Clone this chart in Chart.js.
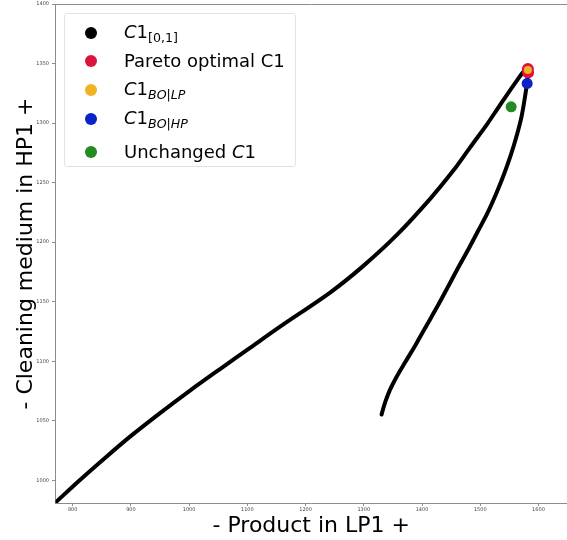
<!DOCTYPE html>
<html>
<head>
<meta charset="utf-8">
<script src="https://cdn.jsdelivr.net/npm/chart.js@4.4.1/dist/chart.umd.min.js"></script>
<style>
  body { margin: 0; background: #fff; }
  #wrap { position: relative; width: 567px; height: 540px; font-family: 'DejaVu Sans', sans-serif; }
  #legend { position: absolute; left: 64px; top: 13px; width: 230px; height: 152px;
            border: 1px solid #e2e2e2; border-radius: 3px; background: rgba(255,255,255,0.85); }
  .dot { position: absolute; width: 12px; height: 12px; border-radius: 50%; }
  .lbl { position: absolute; left: 123px; font-size: 18px; line-height: 18px; white-space: nowrap; color: #000; }
  .lbl i { font-style: oblique; }
  .lbl sub { font-size: 0.7em; vertical-align: -0.35em; line-height: 0; }
</style>
</head>
<body>
<div id="wrap">
  <canvas id="chart" width="567" height="540"></canvas>
  <div id="legend"></div>
</div>
<script>
// solution path C1 in [0,1]: up the long branch, back down the short one
const curveX = [771.3, 812.5, 855.5, 898.5, 950, 1001.5, 1053.1, 1104.6, 1156.2, 1242.1, 1298.8,
                1357.2, 1413.9, 1453.4, 1482.6, 1511.9, 1529, 1546.2, 1561.7, 1573.7, 1581.4,
                1580.6, 1577.1, 1571.1, 1563.4, 1553.1, 1541.1, 1527.3, 1511.9, 1496.4, 1479.2,
                1462, 1444.8, 1427.7, 1408.8, 1389.9, 1371, 1355.5, 1344.5, 1337.5, 1333, 1330.6];
const curveY = [981.8, 1000.3, 1018.8, 1036.7, 1056.5, 1075.4, 1093.5, 1111.3, 1129.1, 1157.7, 1179.9,
                1206.3, 1236.4, 1259.9, 1279.6, 1299.2, 1311.6, 1324, 1334.8, 1342.8, 1345.7,
                1335.3, 1322.7, 1305.9, 1290.9, 1274.1, 1257.4, 1240.6, 1223.9, 1209.6, 1193.7,
                1178.6, 1162.7, 1147.2, 1130.9, 1114.6, 1099.1, 1086.2, 1075.6, 1066.7, 1059.7, 1055.3];

const paretoX = [1581.8, 1582.2];
const paretoY = [1345.5, 1342.5];
const boLpX = [1581.8];
const boLpY = [1344.5];
const boHpX = [1580.6];
const boHpY = [1333.3];
const unchangedX = [1553.1];
const unchangedY = [1313.7];

const xTicks = [800, 900, 1000, 1100, 1200, 1300, 1400, 1500, 1600];
const yTicks = [1000, 1050, 1100, 1150, 1200, 1250, 1300, 1350, 1400];

const seriesColors = ['#000000', '#dc143c', '#f0b323', '#0a22c8', '#228b22'];
const seriesLabels = [
    '<i>C</i>1<sub>[0,1]</sub>',
    'Pareto optimal C1',
    '<i>C</i>1<sub><i>BO</i>|<i>LP</i></sub>',
    '<i>C</i>1<sub><i>BO</i>|<i>HP</i></sub>',
    'Unchanged <i>C</i>1'
];

const zip = (xs, ys) => xs.map((x, i) => ({ x: x, y: ys[i] }));

Chart.defaults.font.family = "'DejaVu Sans', sans-serif";

const spineColor = '#8c8c8c';

// top spine like matplotlib
const topSpine = {
    id: 'topSpine',
    afterDraw: (chart) => {
        const { ctx, chartArea } = chart;
        ctx.save();
        ctx.strokeStyle = spineColor;
        ctx.lineWidth = 1;
        ctx.beginPath();
        ctx.moveTo(chartArea.left, chartArea.top + 0.5);
        ctx.lineTo(chartArea.right, chartArea.top + 0.5);
        ctx.stroke();
        ctx.restore();
    }
};

const dot = (label, xs, ys, color, r, order) => ({
    label: label,
    data: zip(xs, ys),
    backgroundColor: color,
    borderWidth: 0,
    pointRadius: r,
    pointHoverRadius: r,
    order: order
});

new Chart(document.getElementById('chart'), {
    type: 'scatter',
    data: {
        datasets: [
            {
                label: 'C1 [0,1]',
                data: zip(curveX, curveY),
                showLine: true,
                borderColor: '#000',
                borderWidth: 4,
                borderCapStyle: 'round',
                borderJoinStyle: 'round',
                pointRadius: 0,
                pointHoverRadius: 0,
                tension: 0.3,
                order: 10
            },
            dot('Pareto optimal C1', paretoX, paretoY, seriesColors[1], 6, 4),
            dot('C1 BO|LP', boLpX, boLpY, seriesColors[2], 4, 3),
            dot('C1 BO|HP', boHpX, boHpY, seriesColors[3], 5.5, 2),
            dot('Unchanged C1', unchangedX, unchangedY, seriesColors[4], 5.5, 1)
        ]
    },
    options: {
        responsive: false,
        animation: false,
        events: [],
        layout: { autoPadding: false, padding: { top: 4, right: 0, left: 0, bottom: 0 } },
        plugins: {
            legend: { display: false },
            tooltip: { enabled: false }
        },
        scales: {
            x: {
                type: 'linear',
                min: 770.5,
                max: 1649,
                afterBuildTicks: (s) => { s.ticks = xTicks.map(v => ({ value: v })); },
                afterFit: (s) => { s.height = 37; s.paddingLeft = 0; s.paddingRight = 0; },
                grid: { drawOnChartArea: false, drawTicks: true, tickLength: 3, color: spineColor },
                border: { display: true, color: spineColor },
                ticks: { font: { size: 5 }, color: '#444', padding: 1, maxRotation: 0,
                         callback: (v) => String(v) },
                title: {
                    display: true,
                    text: '- Product in LP1 +',
                    font: { size: 22 },
                    color: '#000',
                    padding: { top: 0, bottom: 1 }
                }
            },
            y: {
                type: 'linear',
                min: 981,
                max: 1400,
                afterBuildTicks: (s) => { s.ticks = yTicks.map(v => ({ value: v })); },
                afterFit: (s) => { s.width = 55.5; s.paddingTop = 0; s.paddingBottom = 0; },
                grid: { drawOnChartArea: false, drawTicks: true, tickLength: 3.5, color: spineColor },
                border: { display: true, color: spineColor },
                ticks: { font: { size: 5 }, color: '#444', padding: 3,
                         callback: (v) => String(v) },
                title: {
                    display: true,
                    text: '- Cleaning medium in HP1 +',
                    font: { size: 22 },
                    color: '#000',
                    padding: { top: 13, bottom: 0 }
                }
            }
        }
    },
    plugins: [topSpine]
});

// legend with sub-scripted labels
const rowCenters = [18.7, 47, 76, 105.3, 137.7];
const legend = document.getElementById('legend');
seriesLabels.forEach((html, i) => {
    const d = document.createElement('div');
    d.className = 'dot';
    d.style.left = (90 - 64 - 6) + 'px';
    d.style.top = (rowCenters[i] - 6) + 'px';
    d.style.background = seriesColors[i];
    legend.appendChild(d);
    const t = document.createElement('div');
    t.className = 'lbl';
    t.style.left = (123 - 64) + 'px';
    const shift = html.indexOf('<sub>') >= 0 ? 10 : 9;
    t.style.top = (rowCenters[i] - shift) + 'px';
    t.innerHTML = html;
    legend.appendChild(t);
});
</script>
</body>
</html>
